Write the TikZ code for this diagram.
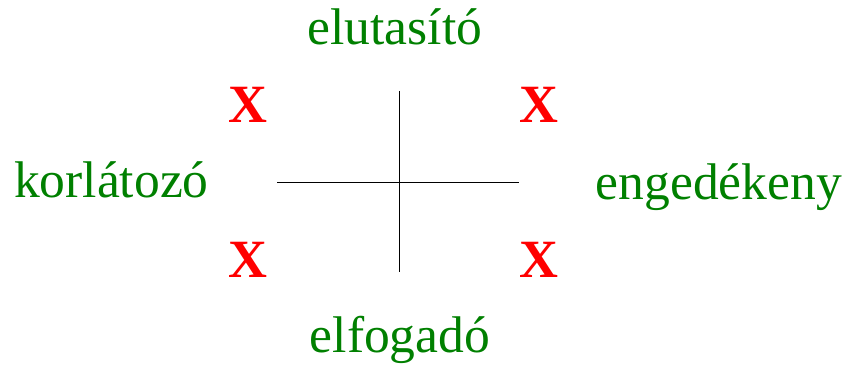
\documentclass[tikz,border=0pt]{standalone}
\usepackage{fontspec}
\setmainfont{Liberation Serif}
\usepackage{tikz}
\usetikzlibrary{positioning}
\definecolor{axis-green}{RGB}{0,128,0}
\definecolor{axis-red}{RGB}{255,0,0}

\begin{document}
\begin{tikzpicture}[
  x=0.03cm, y=0.03cm,
  every node/.style={inner sep=0pt, outer sep=0pt},
  term/.style={font=\fontsize{44}{50}\selectfont, text=axis-green, anchor=base},
  xmark/.style={font=\fontsize{46}{52}\selectfont\bfseries, text=axis-red, anchor=center},
  axisline/.style={line width=0.8pt, black}
]
  \useasboundingbox (0,0) rectangle (844,364);

  % axes
  \coordinate (west) at (277,182);
  \coordinate (east) at (519,182);
  \coordinate (north) at (399,273);
  \coordinate (south) at (399,92);
  \draw[axisline] (west) -- (east);
  \draw[axisline] (north) -- (south);

  % pole labels
  \node[term] (elutasito) at (395,319) {elutasító};
  \node[term] (elfogado) at (400,12) {elfogadó};
  \node[term, anchor=base west] (korlatozo) at (14,166) {korlátozó};
  \node[term, anchor=base east] (engedekeny) at (842,164) {engedékeny};

  % quadrant marks
  \node[xmark] (nw) at (248,259) {X};
  \node[xmark] (ne) at (539,259) {X};
  \node[xmark] (sw) at (248,104) {X};
  \node[xmark] (se) at (539,104) {X};
\end{tikzpicture}
\end{document}
